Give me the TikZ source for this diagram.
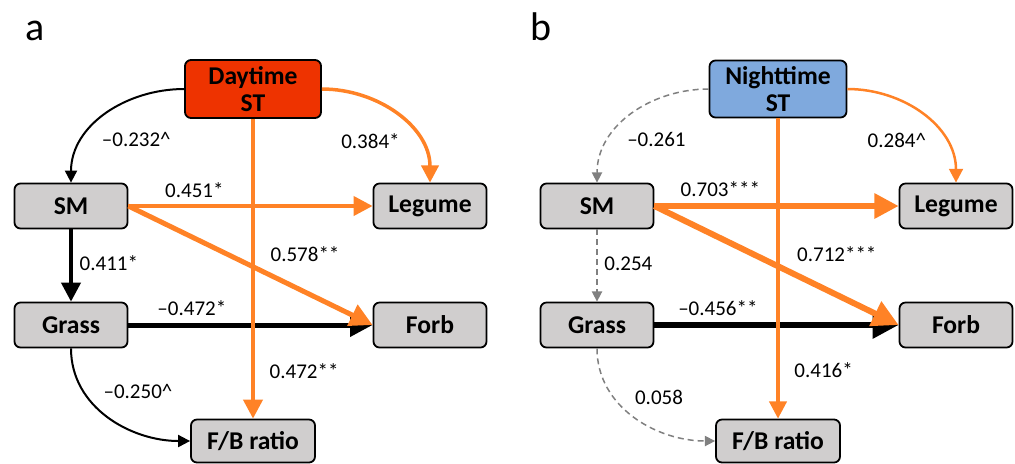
\documentclass[tikz,border=0pt]{standalone}
\usepackage{fontspec}
\setmainfont{Carlito}
\usetikzlibrary{arrows.meta,positioning}
\definecolor{stOrange}{RGB}{255,130,38}
\definecolor{dayRed}{RGB}{238,51,0}
\definecolor{nightBlue}{RGB}{127,169,221}
\definecolor{boxGray}{RGB}{208,206,206}
\definecolor{nsGray}{RGB}{128,128,128}

\begin{document}
\begin{tikzpicture}[node distance = 59.5pt,
        var/.style = {draw, line width=0.9pt, rounded corners=3pt, fill=boxGray,
            minimum width=56.5pt, minimum height=22.5pt, inner sep=1pt, align=center,
            font=\fontsize{12.8}{13.5}\selectfont\bfseries},
        link/.style = {-{Triangle[length=2.5pt 3.5, width=2.5pt 3.5]}},
        ns/.style = {link, draw=nsGray, dash pattern=on 3pt off 2pt, line width=0.75pt},
        coef/.style = {font=\fontsize{10.5}{12}\selectfont, text=black},
        tag/.style = {font=\fontsize{20}{22}\selectfont, anchor=base}]
                \useasboundingbox (0,0) rectangle (507.5pt,-231.5pt);
                
                % panel a
                \node[tag] (aTag) at (17.5pt,-20pt) {a};
                \node[var] (aSM) at (35.5pt,-103pt) {SM};
                \node[var] (aGrass) [below of = aSM] {Grass};
                \node[var] (aLegume) [right of = aSM, node distance = 179.5pt] {Legume};
                \node[var] (aForb) [below of = aLegume] {Forb};
                \node[var, fill=dayRed, minimum width=68pt, minimum height=29pt] (aDay) at (126.5pt,-44.5pt) {Daytime\\ST};
                \node[var, minimum width=62pt, minimum height=21.5pt] (aFB) [below of = aDay, node distance = 176pt] {F/B ratio};
                
                % panel b
                \node[tag] (bTag) at (270.5pt,-20pt) {b};
                \node[var] (bSM) [right of = aSM, node distance = 263pt] {SM};
                \node[var] (bGrass) [below of = bSM] {Grass};
                \node[var] (bLegume) [right of = bSM, node distance = 179.5pt] {Legume};
                \node[var] (bForb) [below of = bLegume] {Forb};
                \node[var, fill=nightBlue, minimum width=68.5pt, minimum height=28.5pt] (bDay) [right of = aDay, node distance = 262.5pt] {Nighttime\\ST};
                \node[var, minimum width=62pt, minimum height=21.5pt] (bFB) [below of = bDay, node distance = 176pt] {F/B ratio};
                
                % black and grey paths first
                \draw[link, line width=1pt] (aDay.west) to[out=180, in=90] node[coef, pos=0.6, below right] {--0.232\textasciicircum} (aSM.north);
                \draw[link, line width=2pt] (aSM) -- node[coef, pos=0.47, right] {0.411*} (aGrass);
                \draw[link, line width=2.5pt] (aGrass) -- node[coef, pos=0.26, above] {--0.472*} (aForb);
                \draw[link, line width=1pt] (aGrass.south) to[out=270, in=180] node[coef, pos=0.4, above right] {--0.250\textasciicircum} (aFB.west);
                
                \draw[ns] (bDay.west) to[out=180, in=90] node[coef, pos=0.6, below right] {--0.261} (bSM.north);
                \draw[ns] (bSM) -- node[coef, pos=0.47, right] {0.254} (bGrass);
                \draw[link, line width=3pt] (bGrass) -- node[coef, pos=0.26, above] {--0.456**} (bForb);
                \draw[ns] (bGrass.south) to[out=270, in=180] node[coef, pos=0.45, above right] {0.058} (bFB.west);
                
                % orange paths on top
                \draw[link, stOrange, line width=1.75pt] (aDay.east) to[out=0, in=90] node[coef, pos=0.6, below left] {0.384*} (aLegume.north);
                \draw[link, stOrange, line width=2pt] (aSM) -- node[coef, pos=0.27, above] {0.451*} (aLegume);
                \draw[link, stOrange, line width=2.5pt] (aSM.east) -- node[coef, pos=0.545, above right] {0.578**} (aForb.west);
                \draw[link, stOrange, line width=2pt] (aDay) -- node[coef, pos=0.84, right=4pt] {0.472**} (aFB);
                
                \draw[link, stOrange, line width=1.25pt] (bDay.east) to[out=0, in=90] node[coef, pos=0.6, below left] {0.284\textasciicircum} (bLegume.north);
                \draw[link, stOrange, line width=2.75pt] (bSM) -- node[coef, pos=0.27, above] {0.703***} (bLegume);
                \draw[link, stOrange, line width=3pt] (bSM.east) -- node[coef, pos=0.545, above right] {0.712***} (bForb.west);
                \draw[link, stOrange, line width=1.75pt] (bDay) -- node[coef, pos=0.84, right=4pt] {0.416*} (bFB);
            \end{tikzpicture}
\end{document}
